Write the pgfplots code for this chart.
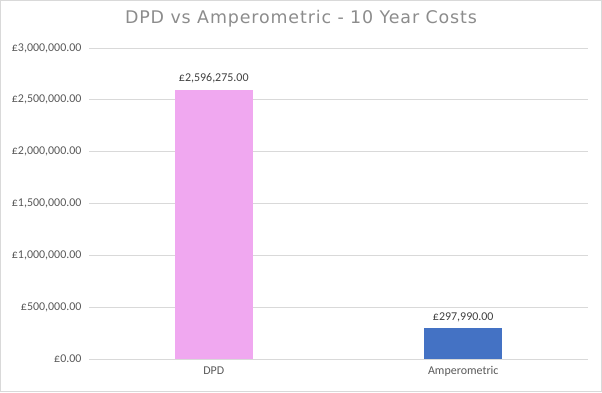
\documentclass[border=0pt]{standalone}
\usepackage{pgfplots}
\pgfplotsset{compat=1.18}
\usepackage{fontspec}
\setmainfont{Carlito}
\newfontfamily\titlefont[LetterSpace=5]{DejaVu Sans}
\definecolor{pinkbar}{RGB}{240,168,240}
\definecolor{bluebar}{RGB}{68,114,196}
\definecolor{gridc}{RGB}{217,217,217}
\definecolor{ticktext}{RGB}{89,89,89}
\definecolor{titletext}{RGB}{140,140,140}
\begin{document}
\begin{tikzpicture}[x=1bp,y=1bp]
\draw[gridc, line width=1bp] (0.5,0.5) rectangle (601.5,391.5);
\node[font=\titlefont\fontsize{17.5}{19}\selectfont, text=titletext, anchor=center] at (301,373) {DPD vs Amperometric - 10 Year Costs};
\begin{axis}[
  at={(89bp,33bp)}, anchor=south west,
  scale only axis, width=499bp, height=311bp,
  xmin=-0.5, xmax=1.5, ymin=0, ymax=3000000,
  axis line style={draw=none},
  major tick length=0pt,
  ymajorgrids, grid style={gridc, line width=0.8bp},
  ytick={0,500000,1000000,1500000,2000000,2500000,3000000},
  yticklabels={{£0.00},{£500,000.00},{£1,000,000.00},{£1,500,000.00},{£2,000,000.00},{£2,500,000.00},{£3,000,000.00}},
  scaled y ticks=false,
  xtick={0,1}, xticklabels={DPD,Amperometric},
  tick label style={font=\fontsize{12}{14}\selectfont, text=ticktext},
  yticklabel style={xshift=-4bp},
  xticklabel style={yshift=-4bp},
  ybar, bar width=78bp, bar shift=0pt,
  point meta=explicit symbolic,
  nodes near coords,
  nodes near coords style={font=\fontsize{12}{14}\selectfont, text=black!75, yshift=3bp},
]
\addplot[fill=pinkbar, draw=none] coordinates {(0,2596275) [£2{,}596{,}275.00]};
\addplot[fill=bluebar, draw=none] coordinates {(1,297990) [£297{,}990.00]};
\end{axis}
\end{tikzpicture}
\end{document}
